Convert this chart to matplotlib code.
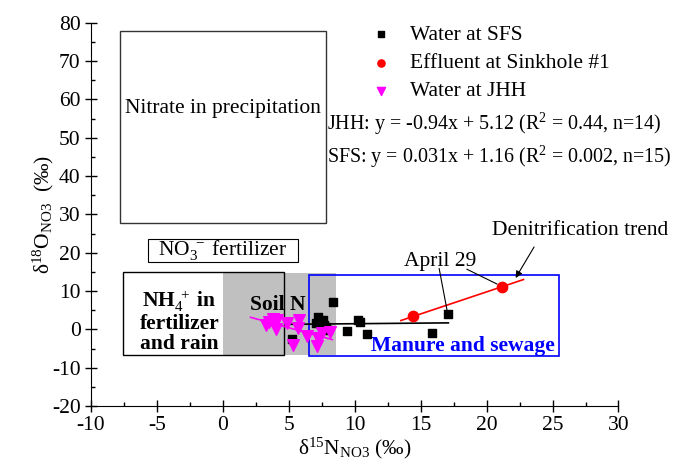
import numpy as np
import matplotlib.pyplot as plt
from matplotlib.patches import Rectangle

plt.rcParams['font.family'] = ['Liberation Serif', 'DejaVu Serif']
plt.rcParams['mathtext.fontset'] = 'custom'
plt.rcParams['mathtext.rm'] = 'Liberation Serif'
plt.rcParams['mathtext.it'] = 'Liberation Serif:italic'
plt.rcParams['mathtext.bf'] = 'Liberation Serif:bold'
plt.rcParams['axes.unicode_minus'] = False

FS = 15.5

# data
sfs_x = [8.37, 7.24, 7.57, 7.06, 8.0, 7.8, 10.27, 10.4, 9.44, 10.96, 5.26, 17.06, 15.85, 7.3, 7.7]
sfs_y = [7.2, 3.3, 2.4, 1.7, -0.2, 0.5, 2.4, 2.0, -0.4, -1.2, -2.5, 3.9, -0.9, 2.0, 1.2]
eff_x = [14.4, 21.16]
eff_y = [3.5, 11.1]
jhh_x = [3.77, 4.08, 3.27, 4.02, 4.83, 5.77, 5.72, 6.4, 7.24, 7.16, 8.12, 5.34, 3.5, 7.5]
jhh_y = [2.6, 2.4, 1.1, 0.1, 1.7, 2.4, 0.3, -1.7, -2.3, -4.4, -0.8, -4.1, 1.8, -1.0]

# fitted lines (from the equations on the chart)
jhh_fit = (-0.94, 5.12)
sfs_fit = (0.031, 1.16)
jhh_fit_x = [2.1, 8.3]
sfs_fit_x = [4.7, 17.1]
trend_x = [13.5, 22.8]
trend_y = [2.3, 13.0]

fig = plt.figure(figsize=(6.73, 4.65), dpi=100)
ax = fig.add_axes([0.1352, 0.1269, 0.919 - 0.1352, 0.951 - 0.1269])

# source regions
ax.add_patch(Rectangle((-7.8, 27.7), 15.6, 50.2, fill=False, ec='#333333', lw=1.0, zorder=1))
ax.add_patch(Rectangle((-5.7, 17.5), 11.4, 6.1, fc='white', ec='black', lw=0.8, zorder=1))
ax.add_patch(Rectangle((-7.6, -6.7), 12.2, 21.6, fill=False, ec='black', lw=1.0, zorder=1))
ax.add_patch(Rectangle((0, -6.7), 8.6, 21.4, fc='#c0c0c0', ec='none', zorder=0))
ax.add_patch(Rectangle((6.5, -7.0), 19.0, 21.2, fill=False, ec='blue', lw=1.2, zorder=2))

ax.text(0, 57.7, 'Nitrate in precipitation', ha='center', va='center', fontsize=FS)
ax.text(0, 20.7, r'NO$_3^{\ -}$ fertilizer', ha='center', va='center', fontsize=FS, zorder=2)
ax.text(-3.3, 2.0, 'NH$_4^{\ +}$ in\nfertilizer\nand rain', ha='center', va='center',
        fontsize=FS, fontweight='bold', linespacing=1.0)
ax.text(4.2, 6.3, 'Soil N', ha='center', va='center', fontsize=FS, fontweight='bold')
ax.text(18.2, -4.3, 'Manure and sewage', ha='center', va='center', fontsize=FS,
        fontweight='bold', color='blue')

# fit lines
xs = np.array(sfs_fit_x)
ax.plot(xs, sfs_fit[0] * xs + sfs_fit[1], color='black', lw=1.2, zorder=3)
xj = np.array(jhh_fit_x)
ax.plot(xj, jhh_fit[0] * xj + jhh_fit[1], color='magenta', lw=1.2, zorder=3)
ax.plot(trend_x, trend_y, color='red', lw=1.2, zorder=3)

ax.scatter(sfs_x, sfs_y, marker='s', s=40, color='black', label='Water at SFS', zorder=4)
ax.scatter(eff_x, eff_y, marker='o', s=55, color='red', label='Effluent at Sinkhole #1', zorder=5)
ax.scatter(jhh_x, jhh_y, marker='v', s=70, color='magenta', label='Water at JHH', zorder=4)

# annotations
ax.annotate('', xy=(17.06, 3.9), xytext=(16.4, 15.9),
            arrowprops=dict(arrowstyle='-', color='black', lw=0.8, shrinkA=0, shrinkB=0))
ax.annotate('', xy=(20.8, 11.8), xytext=(18.5, 15.7),
            arrowprops=dict(arrowstyle='-', color='black', lw=0.8, shrinkA=0, shrinkB=0))
ax.text(16.5, 17.6, 'April 29', ha='center', va='center', fontsize=FS)
ax.annotate('', xy=(22.2, 13.4), xytext=(23.6, 21.5),
            arrowprops=dict(arrowstyle='-|>', color='black', lw=0.8, mutation_scale=10,
                            shrinkA=0, shrinkB=0))
ax.text(27.1, 25.9, 'Denitrification trend', ha='center', va='center', fontsize=FS)

ax.text(7.9, 53.5, r'JHH: y = -0.94x + 5.12 (R$^2$ = 0.44, n=14)', ha='left', va='center', fontsize=14.4)
ax.text(7.9, 44.9, r'SFS: y = 0.031x + 1.16 (R$^2$ = 0.002, n=15)', ha='left', va='center', fontsize=14.4)

leg = ax.legend(loc='upper left', bbox_to_anchor=(0.5, 1.017), frameon=False, fontsize=FS,
                handletextpad=0.55, borderaxespad=0, labelspacing=0.38, markerscale=0.7,
                handlelength=1.6)

ax.set_xlim(-10, 30)
ax.set_ylim(-20, 80)
ax.set_xticks(np.arange(-10, 31, 5))
ax.set_yticks(np.arange(-20, 81, 10))
ax.set_xticks(np.arange(-7.5, 30, 5), minor=True)
ax.set_yticks(np.arange(-15, 80, 10), minor=True)
ax.tick_params(axis='both', which='major', direction='inout', length=8, labelsize=FS, width=1)
ax.tick_params(axis='both', which='minor', direction='in', length=3, width=1)
ax.spines['top'].set_visible(False)
ax.spines['right'].set_visible(False)
ax.set_xlabel('\u03b4$^{15}$N$_{\\mathrm{NO3}}$ (‰)', fontsize=FS, labelpad=0)
ax.set_ylabel('\u03b4$^{18}$O$_{\\mathrm{NO3}}$  (‰)', fontsize=FS, labelpad=-3)

fig.savefig('out.png', dpi=100)
